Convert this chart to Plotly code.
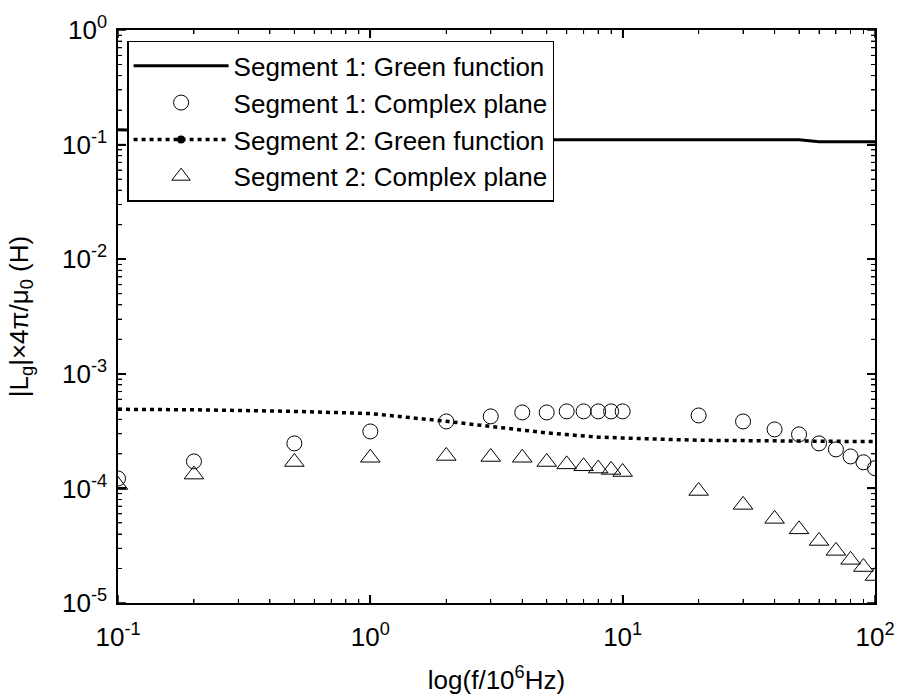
import math
import plotly.graph_objects as go

# ---- data ----
f_line = [0.1, 0.2, 0.5, 1, 2, 3, 5, 10, 20, 50, 60, 100]
seg1_green = [0.135, 0.13, 0.122, 0.117, 0.113, 0.111, 0.11, 0.11, 0.11, 0.11, 0.106, 0.106]

f_pts = [0.1, 0.2, 0.5, 1, 2, 3, 4, 5, 6, 7, 8, 9, 10, 20, 30, 40, 50, 60, 70, 80, 90, 100]
seg2_green = [4.9e-4, 4.85e-4, 4.7e-4, 4.5e-4, 3.85e-4, 3.47e-4, 3.2e-4, 3.05e-4, 2.95e-4, 2.86e-4,
              2.8e-4, 2.78e-4, 2.75e-4, 2.63e-4, 2.6e-4, 2.58e-4, 2.57e-4, 2.57e-4, 2.57e-4, 2.57e-4,
              2.57e-4, 2.57e-4]
seg1_complex = [1.22e-4, 1.72e-4, 2.47e-4, 3.14e-4, 3.84e-4, 4.25e-4, 4.6e-4, 4.6e-4, 4.7e-4, 4.7e-4,
                4.7e-4, 4.7e-4, 4.7e-4, 4.33e-4, 3.84e-4, 3.27e-4, 2.96e-4, 2.47e-4, 2.19e-4, 1.9e-4,
                1.69e-4, 1.5e-4]
seg2_complex = [1.07e-4, 1.32e-4, 1.70e-4, 1.85e-4, 1.92e-4, 1.88e-4, 1.85e-4, 1.70e-4, 1.62e-4, 1.56e-4,
                1.49e-4, 1.45e-4, 1.39e-4, 9.5e-5, 7.18e-5, 5.42e-5, 4.39e-5, 3.48e-5, 2.85e-5, 2.38e-5,
                2.06e-5, 1.72e-5]

x_major = [0.1, 1, 10, 100]
y_major = [1e-5, 1e-4, 1e-3, 1e-2, 1e-1, 1]
x_minor = [d * k for d in x_major[:-1] for k in range(2, 10)]
y_minor = [d * k for d in y_major[:-1] for k in range(2, 10)]
X_RANGE = [-1, 2]
Y_RANGE = [-5, 0]

# tick labels (plotly default log labels -> reference-style powers of ten)
x_labelalias = {"0.1": "10<sup>-1</sup>", "1": "10<sup>0</sup>", "10": "10<sup>1</sup>",
                "100": "10<sup>2</sup>"}
y_labelalias = {"10μ": "10<sup>-5</sup>", "100μ": "10<sup>-4</sup>", "0.001": "10<sup>-3</sup>",
                "0.01": "10<sup>-2</sup>", "0.1": "10<sup>-1</sup>", "1": "10<sup>0</sup>"}

FONT = "Liberation Sans, Arial, sans-serif"
FS = 26

fig = go.Figure()
fig.add_trace(go.Scatter(x=f_line, y=seg1_green, mode="lines",
                         line=dict(color="black", width=3),
                         name="Segment 1: Green function", legendgroup="a"))
fig.add_trace(go.Scatter(x=f_pts, y=seg1_complex, mode="markers",
                         marker=dict(symbol="circle-open", size=15, color="black", line=dict(width=1)),
                         name="Segment 1: Complex plane", legendgroup="b"))
fig.add_trace(go.Scatter(x=f_pts, y=seg2_green, mode="lines",
                         line=dict(color="black", width=3.5, dash="4px,4px"),
                         showlegend=False))
fig.add_trace(go.Scatter(x=[None], y=[None], mode="lines+markers",
                         line=dict(color="black", width=3.5, dash="4px,4px"),
                         marker=dict(symbol="circle", size=8, color="black"),
                         name="Segment 2: Green function", legendgroup="c"))
fig.add_trace(go.Scatter(x=f_pts, y=seg2_complex, mode="markers",
                         marker=dict(symbol="triangle-up-open", size=17, color="black", line=dict(width=1)),
                         name="Segment 2: Complex plane", legendgroup="d"))

# inward tick marks on all four sides (MATLAB box style), placed in axis-domain units
def dom(v, rng):
    return (math.log10(v) - rng[0]) / (rng[1] - rng[0])

tick_shapes = []
for vals, length, width in ((x_major, 8, 1.5), (x_minor, 4, 1.0)):
    for v in vals:
        p = dom(v, X_RANGE)
        for anchor, sign in ((0, 1), (1, -1)):
            tick_shapes.append(dict(type="line", xref="x domain", yref="y domain",
                                    ysizemode="pixel", yanchor=anchor, x0=p, x1=p,
                                    y0=0, y1=sign * length, layer="above",
                                    line=dict(color="black", width=width)))
for vals, length, width in ((y_major, 8, 1.5), (y_minor, 4, 1.0)):
    for v in vals:
        p = dom(v, Y_RANGE)
        for anchor, sign in ((0, 1), (1, -1)):
            tick_shapes.append(dict(type="line", xref="x domain", yref="y domain",
                                    xsizemode="pixel", xanchor=anchor, y0=p, y1=p,
                                    x0=0, x1=sign * length, layer="above",
                                    line=dict(color="black", width=width)))

axis_common = dict(
    type="log", dtick=1, automargin=False,
    showgrid=True, gridcolor="rgba(0,0,0,0)",
    showline=True, linecolor="black", linewidth=1.5, mirror="ticks",
    ticks="inside", ticklen=8, tickwidth=1.5, tickcolor="black",
    minor=dict(ticks="inside", ticklen=4, tickwidth=1, tickcolor="black", dtick="D1"),
    tickfont=dict(family=FONT, size=FS, color="black"),
)

fig.update_layout(
    width=899, height=699,
    margin=dict(l=118, r=24, t=30, b=96),
    paper_bgcolor="white", plot_bgcolor="white",
    font=dict(family=FONT, size=FS, color="black"),
    xaxis=dict(axis_common, range=X_RANGE, labelalias=x_labelalias, ticklabelstandoff=10,
               title=dict(text="log(f/10<sup>6</sup>Hz)", font=dict(family=FONT, size=FS), standoff=20)),
    yaxis=dict(axis_common, range=Y_RANGE, labelalias=y_labelalias, ticklabelstandoff=4,
               title=dict(text="|L<sub>g</sub>|×4π/μ<sub>0</sub> (H)", font=dict(family=FONT, size=FS),
                          standoff=26)),
    legend=dict(x=0.012, y=0.981, xanchor="left", yanchor="top",
                bgcolor="white", bordercolor="black", borderwidth=1.5,
                font=dict(family=FONT, size=FS, color="black"),
                itemwidth=95, traceorder="grouped", tracegroupgap=0),
    shapes=tick_shapes,
    showlegend=True,
)

fig.write_html("out.html")
